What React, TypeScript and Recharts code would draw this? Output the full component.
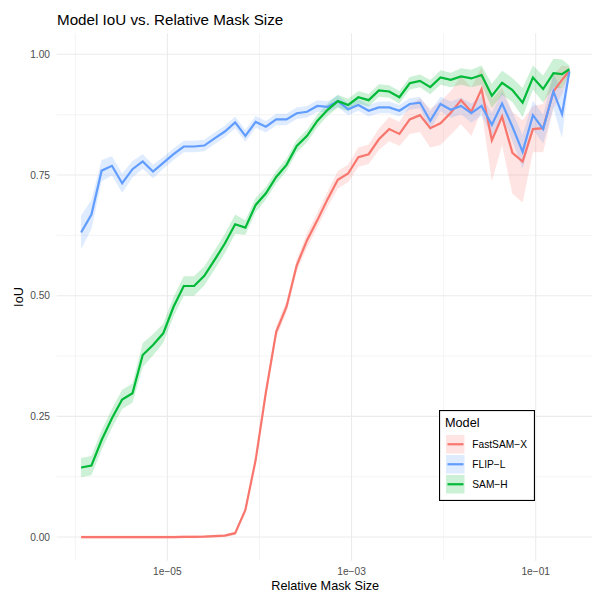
import React from 'react';
import { ComposedChart, Area, Line, XAxis, YAxis, CartesianGrid, Legend } from 'recharts';

// log10 of relative mask size (bin centres)
const logSize = [
  -5.937, -5.825, -5.714, -5.602, -5.491, -5.379, -5.268, -5.156, -5.045, -4.933,
  -4.822, -4.71, -4.599, -4.487, -4.376, -4.264, -4.153, -4.041, -3.93, -3.818,
  -3.706, -3.595, -3.483, -3.372, -3.26, -3.149, -3.037, -2.926, -2.814, -2.703,
  -2.591, -2.48, -2.368, -2.257, -2.145, -2.034, -1.922, -1.811, -1.699, -1.588,
  -1.476, -1.365, -1.253, -1.142, -1.03, -0.919, -0.807, -0.714, -0.634,
];

const fastSamMean = [
  0, 0, 0, 0, 0, 0, 0, 0, 0, 0,
  0.0005, 0.0005, 0.001, 0.002, 0.003, 0.008, 0.056, 0.16, 0.3, 0.425,
  0.477, 0.563, 0.615, 0.656, 0.7, 0.74, 0.753, 0.787, 0.793, 0.824,
  0.845, 0.835, 0.865, 0.874, 0.847, 0.857, 0.879, 0.905, 0.881, 0.928,
  0.822, 0.871, 0.796, 0.778, 0.845, 0.847, 0.923, 0.947, 0.966,
];
const fastSamHalf = [
  0.003, 0.003, 0.003, 0.003, 0.003, 0.003, 0.003, 0.003, 0.003, 0.003,
  0.003, 0.003, 0.003, 0.003, 0.003, 0.003, 0.005, 0.008, 0.01, 0.012,
  0.012, 0.013, 0.015, 0.015, 0.016, 0.018, 0.018, 0.02, 0.02, 0.022,
  0.025, 0.025, 0.03, 0.035, 0.04, 0.045, 0.045, 0.05, 0.05, 0.045,
  0.085, 0.06, 0.085, 0.085, 0.048, 0.05, 0.035, 0.03, 0.008,
];

const flipMean = [
  0.631, 0.668, 0.759, 0.769, 0.733, 0.762, 0.778, 0.757, 0.775, 0.793,
  0.809, 0.809, 0.811, 0.826, 0.84, 0.859, 0.831, 0.86, 0.85, 0.865,
  0.865, 0.878, 0.881, 0.893, 0.891, 0.903, 0.886, 0.895, 0.883, 0.89,
  0.89, 0.883, 0.897, 0.9, 0.862, 0.897, 0.885, 0.893, 0.878, 0.893,
  0.854, 0.898, 0.85, 0.798, 0.874, 0.845, 0.923, 0.876, 0.964,
];
const flipHalf = [
  0.035, 0.03, 0.022, 0.02, 0.02, 0.017, 0.015, 0.014, 0.012, 0.012,
  0.012, 0.012, 0.012, 0.012, 0.012, 0.012, 0.012, 0.012, 0.012, 0.012,
  0.012, 0.012, 0.012, 0.012, 0.012, 0.012, 0.012, 0.012, 0.012, 0.012,
  0.012, 0.012, 0.012, 0.012, 0.02, 0.015, 0.017, 0.017, 0.02, 0.02,
  0.025, 0.025, 0.03, 0.035, 0.03, 0.03, 0.035, 0.05, 0.008,
];

const samMean = [
  0.144, 0.148, 0.201, 0.246, 0.285, 0.298, 0.377, 0.398, 0.422, 0.477,
  0.52, 0.52, 0.541, 0.574, 0.608, 0.648, 0.641, 0.688, 0.712, 0.746,
  0.771, 0.81, 0.831, 0.862, 0.885, 0.903, 0.895, 0.911, 0.905, 0.925,
  0.923, 0.911, 0.94, 0.945, 0.932, 0.952, 0.947, 0.954, 0.95, 0.957,
  0.914, 0.941, 0.926, 0.9, 0.952, 0.928, 0.961, 0.959, 0.969,
];
const samHalf = [
  0.02, 0.02, 0.02, 0.02, 0.02, 0.02, 0.025, 0.022, 0.02, 0.02,
  0.02, 0.02, 0.02, 0.02, 0.02, 0.02, 0.015, 0.015, 0.013, 0.013,
  0.013, 0.013, 0.013, 0.013, 0.013, 0.013, 0.013, 0.013, 0.013, 0.013,
  0.013, 0.013, 0.013, 0.013, 0.015, 0.015, 0.015, 0.017, 0.018, 0.02,
  0.025, 0.025, 0.025, 0.03, 0.025, 0.028, 0.03, 0.03, 0.008,
];

const xMajor = [-5, -3, -1];
const xMinor = [-6, -4, -2];
const xTickLabels = ['1e\u221205', '1e\u221203', '1e\u221201'];
const yMajor = [0, 0.25, 0.5, 0.75, 1];
const yMinor = [0.125, 0.375, 0.625, 0.875];

const series = [
  { key: 'fast', name: 'FastSAM\u2212X', color: '#F8766D', mean: fastSamMean, half: fastSamHalf },
  { key: 'flip', name: 'FLIP\u2212L', color: '#619CFF', mean: flipMean, half: flipHalf },
  { key: 'sam', name: 'SAM\u2212H', color: '#00BA38', mean: samMean, half: samHalf },
];

const data = logSize.map((x, i) => {
  const row: any = { x };
  series.forEach((s) => {
    row[s.key] = s.mean[i];
    row[s.key + 'Band'] = [s.mean[i] - s.half[i], s.mean[i] + s.half[i]];
  });
  return row;
});

const font = '"Liberation Sans", Arial, Helvetica, sans-serif';

const LegendBox = () => (
  <svg width={96} height={91} style={{ display: 'block', fontFamily: font }}>
    <rect x={0.55} y={0.55} width={94.9} height={89.9} fill="#fff" stroke="#000" strokeWidth={1.1} />
    <text x={6} y={16.7} fontSize={12.7} fill="#000">Model</text>
    {series.map((s, i) => (
      <g key={s.key}>
        <rect x={7} y={25 + i * 20} width={18.5} height={18.5} fill={s.color} fillOpacity={0.2} />
        <line x1={8.5} x2={24.5} y1={34.25 + i * 20} y2={34.25 + i * 20} stroke={s.color} strokeWidth={2.2} />
        <text x={33.3} y={37.9 + i * 20} fontSize={10.2} fill="#000">{s.name}</text>
      </g>
    ))}
  </svg>
);

const App = () => {
  return (
    <div
      style={{
        position: 'absolute',
        left: 0,
        top: 0,
        width: 592,
        height: 593,
        overflow: 'hidden',
        background: '#fff',
        fontFamily: font,
      }}
    >
      <div
        style={{
          position: 'absolute',
          left: 57,
          top: 10.7,
          fontSize: 15.2,
          lineHeight: '18px',
          color: '#000',
          whiteSpace: 'nowrap',
        }}
      >
        Model IoU vs. Relative Mask Size
      </div>
      <ComposedChart
        width={600}
        height={593}
        data={data}
        margin={{ top: 33.3, right: 6.3, bottom: 0, left: 0 }}
        style={{ fontFamily: font }}
      >
        <CartesianGrid
          stroke="#EBEBEB"
          strokeWidth={0.55}
          horizontalValues={yMinor}
          verticalValues={xMinor}
        />
        <CartesianGrid
          stroke="#EBEBEB"
          strokeWidth={1.07}
          horizontalValues={yMajor}
          verticalValues={xMajor}
        />
        <XAxis
          type="number"
          dataKey="x"
          domain={[-6.202, -0.37]}
          ticks={xMajor}
          interval={0}
          allowDataOverflow
          tickFormatter={(v: number) => xTickLabels[xMajor.indexOf(v)] ?? ''}
          axisLine={false}
          tickLine={false}
          tickSize={5}
          tickMargin={2.1}
          height={32.3}
          tick={{ fill: '#4D4D4D', fontSize: 10.2, fontFamily: font }}
          label={{ value: 'Relative Mask Size', position: 'insideBottom', offset: 3, fill: '#000', fontSize: 12.7, fontFamily: font }}
        />
        <YAxis
          type="number"
          domain={[-0.049, 1.0435]}
          ticks={yMajor}
          interval={0}
          allowDataOverflow
          tickFormatter={(v: number) => v.toFixed(2)}
          axisLine={false}
          tickLine={false}
          tickSize={4}
          tickMargin={2.7}
          width={56.7}
          tick={{ fill: '#4D4D4D', fontSize: 10.2, fontFamily: font }}
          label={{
            value: 'IoU',
            angle: -90,
            position: 'insideLeft',
            offset: 18.8,
            fill: '#000',
            fontSize: 12.7,
            fontFamily: font,
            style: { textAnchor: 'middle' },
          }}
        />
        {series.map((s) => (
          <Area
            key={s.key + 'Band'}
            type="linear"
            dataKey={s.key + 'Band'}
            stroke="none"
            fill={s.color}
            fillOpacity={0.2}
            dot={false}
            activeDot={false}
            legendType="none"
            isAnimationActive={false}
          />
        ))}
        {series.map((s) => (
          <Line
            key={s.key}
            type="linear"
            dataKey={s.key}
            name={s.name}
            stroke={s.color}
            strokeWidth={2.2}
            dot={false}
            activeDot={false}
            isAnimationActive={false}
          />
        ))}
        <Legend
          layout="vertical"
          align="center"
          verticalAlign="middle"
          wrapperStyle={{ left: 439, top: 410, width: 96, height: 91 }}
          content={() => <LegendBox />}
        />
      </ComposedChart>
    </div>
  );
};

export default App;
